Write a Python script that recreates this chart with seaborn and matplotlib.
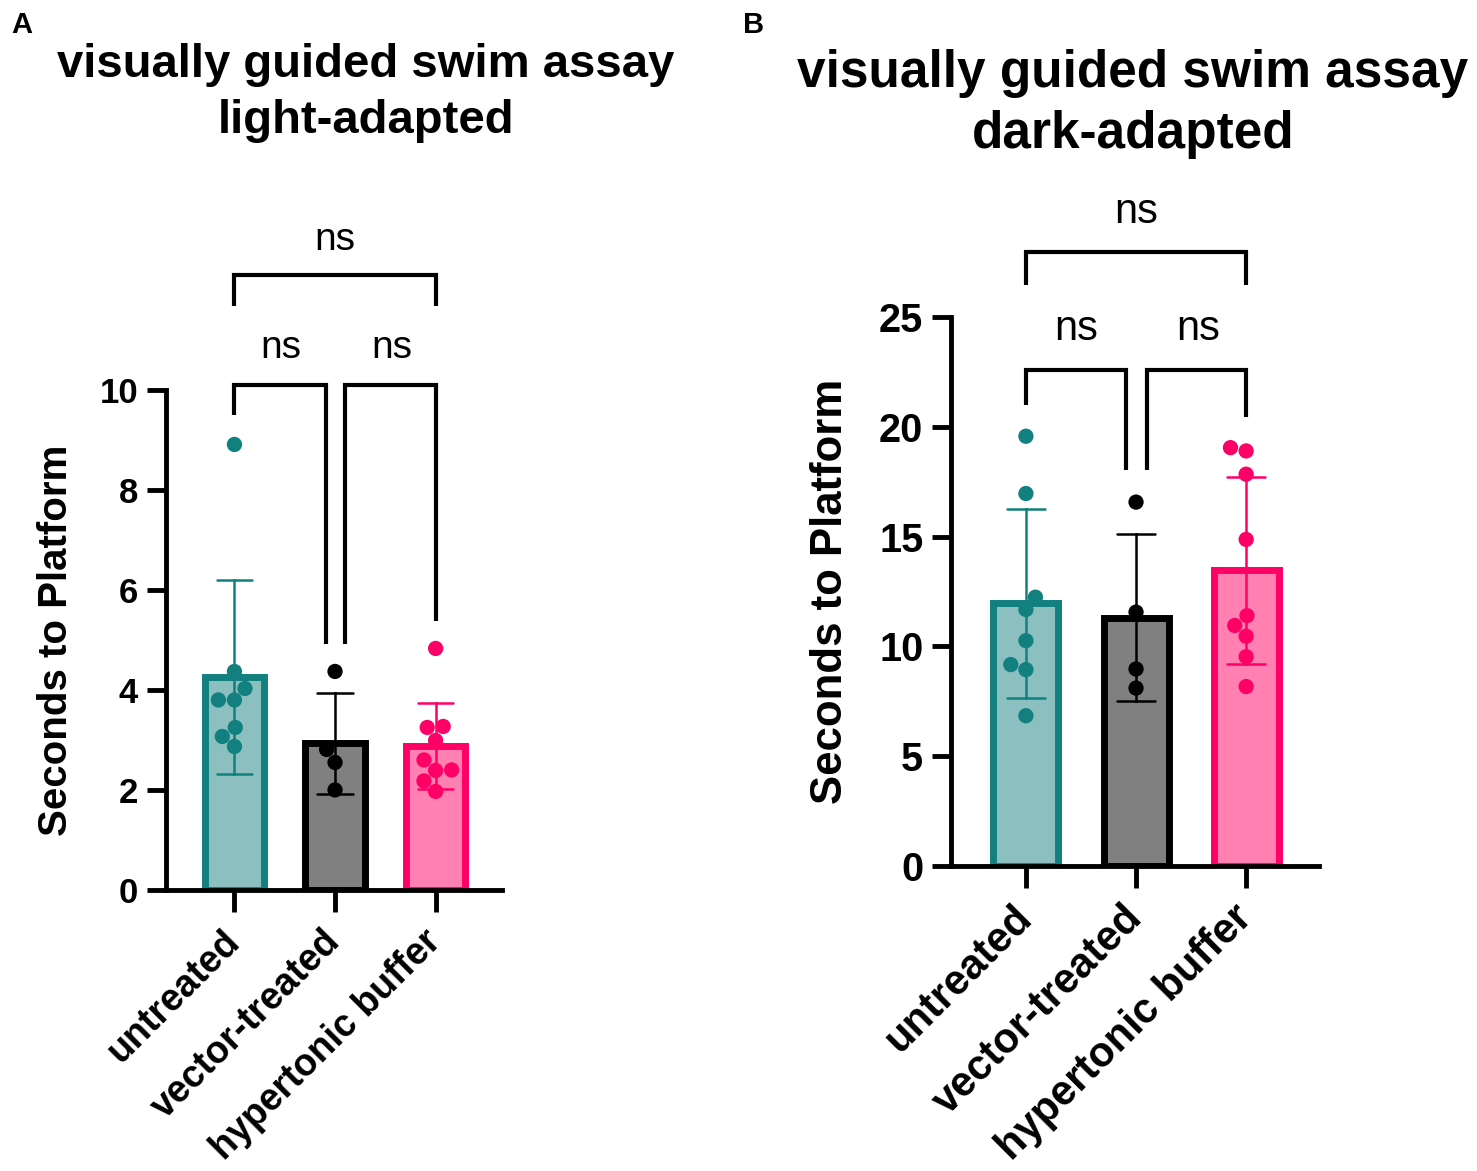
"""Recreate the visually guided swim assay bar charts (light- and dark-adapted)."""

import matplotlib.pyplot as plt
import pandas as pd
import seaborn as sns

# Groups shown on both panels
groups = ["untreated", "vector-treated", "hypertonic buffer"]

# Seconds to platform, light-adapted (panel A)
light_untreated = [8.91, 4.37, 4.03, 3.80, 3.80, 3.25, 3.07, 2.87]
light_vector = [4.37, 2.81, 2.55, 2.00]
light_hypertonic = [4.83, 3.27, 3.25, 2.99, 2.60, 2.40, 2.39, 2.18, 1.97]

# Seconds to platform, dark-adapted (panel B)
dark_untreated = [19.57, 16.96, 12.24, 11.68, 10.26, 9.17, 8.94, 6.84]
dark_vector = [16.57, 11.56, 8.97, 8.10]
dark_hypertonic = [19.05, 18.90, 17.84, 14.87, 11.40, 10.95, 10.46, 9.53, 8.17]

# Significance labels for the comparisons
light_labels = ["ns", "ns", "ns"]
dark_labels = ["ns", "ns", "ns"]

edge_colors = ["#12807f", "#000000", "#ff0066"]
face_colors = ["#8cc0c0", "#808080", "#ff80b1"]


def long_table(*series):
    """Stack the group lists into one long table."""
    rows = []
    for name, values in zip(groups, series):
        rows += [(name, v) for v in values]
    return pd.DataFrame(rows, columns=["group", "seconds"])


def draw_panel(ax, data, ymax, step, sizes, brackets, labels):
    """Bars with SD, points on top and the comparison brackets."""
    fs_tick, fs_xlab, fs_ylab, fs_ns = sizes
    sns.barplot(data=data, x="group", y="seconds", hue="group",
                order=groups, hue_order=groups, palette=face_colors,
                saturation=1, errorbar="sd", capsize=0.35, width=0.59,
                linewidth=5, err_kws={"linewidth": 1.8}, legend=False,
                ax=ax)
    for patch, edge in zip(ax.patches, edge_colors):
        patch.set_edgecolor(edge)
    for line, edge in zip(ax.lines, edge_colors):
        line.set_color(edge)
    sns.swarmplot(data=data, x="group", y="seconds", hue="group",
                  order=groups, hue_order=groups, palette=edge_colors,
                  size=11, legend=False, zorder=3, ax=ax)

    ax.set_xlim(-0.68, 2.66)
    ax.set_ylim(0, ymax)
    ax.set_yticks(range(0, ymax + 1, step))
    ax.set_xlabel("")
    ax.set_ylabel("Seconds to Platform", fontsize=fs_ylab, fontweight="bold")
    ax.yaxis.set_label_coords(-0.272, 0.5)
    sns.despine(ax=ax)
    for side in ["left", "bottom"]:
        ax.spines[side].set_linewidth(3.5)
    ax.tick_params(axis="y", length=14, width=3.5, labelsize=fs_tick, pad=6)
    ax.tick_params(axis="x", length=16, width=3.5, labelsize=fs_xlab, pad=17)
    for lab in ax.get_yticklabels():
        lab.set_fontweight("bold")
    for lab in ax.get_xticklabels():
        lab.set_fontweight("bold")
        lab.set_rotation(45)
        lab.set_ha("right")
        lab.set_va("center")
        lab.set_rotation_mode("anchor")

    for (xs, ys, pos), text in zip(brackets, labels):
        ax.plot(xs, ys, color="black", lw=3, clip_on=False,
                solid_joinstyle="miter", solid_capstyle="butt")
        ax.text(pos[0], pos[1], text, ha="center", va="center",
                fontsize=fs_ns)


sns.set_theme(style="ticks", rc={
    "axes.edgecolor": "black", "xtick.color": "black",
    "ytick.color": "black", "text.color": "black",
    "axes.labelcolor": "black",
})
plt.rcParams["font.family"] = ["Liberation Sans", "DejaVu Sans"]

fig = plt.figure(figsize=(14.77, 11.71), dpi=100)
ax_a = fig.add_axes([0.1124, 0.240, 0.2275, 0.427])
ax_b = fig.add_axes([0.6439, 0.2605, 0.249, 0.4688])

light = long_table(light_untreated, light_vector, light_hypertonic)
dark = long_table(dark_untreated, dark_vector, dark_hypertonic)

light_brackets = [
    ([0, 0, 2, 2], [11.68, 12.3, 12.3, 11.68], (1.0, 13.0)),
    ([0, 0, 0.91, 0.91], [9.5, 10.1, 10.1, 4.92], (0.46, 10.84)),
    ([1.1, 1.1, 2, 2], [4.92, 10.1, 10.1, 5.38], (1.56, 10.84)),
]
dark_brackets = [
    ([0, 0, 2, 2], [26.46, 27.97, 27.97, 26.46], (1.0, 29.8)),
    ([0, 0, 0.91, 0.91], [20.99, 22.58, 22.58, 18.02], (0.46, 24.45)),
    ([1.1, 1.1, 2, 2], [18.02, 22.58, 22.58, 20.44], (1.56, 24.45)),
]

draw_panel(ax_a, light, 10, 2, (25, 27, 29, 28), light_brackets, light_labels)
draw_panel(ax_b, dark, 25, 5, (28.5, 30, 31.5, 30), dark_brackets, dark_labels)

fig.text(0.2478, 0.9205, "visually guided swim assay\nlight-adapted",
         ha="center", va="center", fontsize=34, fontweight="bold",
         linespacing=1.36)
fig.text(0.767, 0.911, "visually guided swim assay\ndark-adapted",
         ha="center", va="center", fontsize=37, fontweight="bold",
         linespacing=1.33)
fig.text(0.0149, 0.9787, "A", ha="center", va="center", fontsize=21,
         fontweight="bold")
fig.text(0.5105, 0.9787, "B", ha="center", va="center", fontsize=21,
         fontweight="bold")

fig.savefig("out.png", dpi=100)
